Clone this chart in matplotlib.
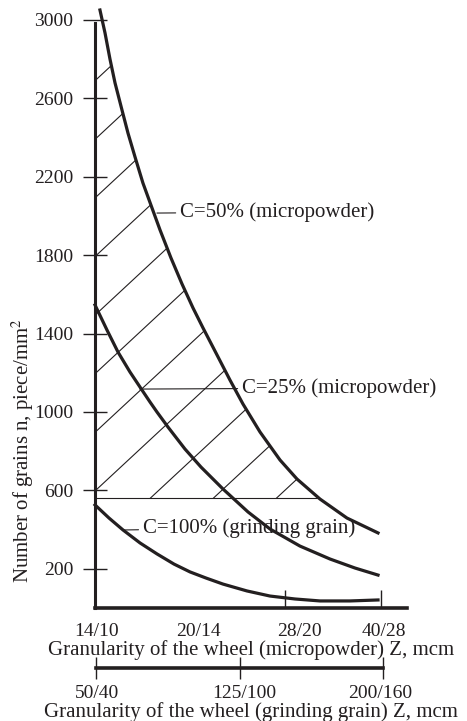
import numpy as np
import matplotlib.pyplot as plt
from matplotlib.patches import Polygon

plt.rcParams['font.family'] = ['Liberation Serif', 'DejaVu Serif']
plt.rcParams['mathtext.fontset'] = 'stix'

ink = '#231f20'

# wheel granularity scales (positions along the bottom axes)
micro_labels = ['14/10', '20/14', '28/20', '40/28']
micro_label_pos = [0.02, 1.08, 2.14, 3.03]
micro_tick_pos = [1.08, 1.99, 3.0]
grain_labels = ['50/40', '125/100', '200/160']
grain_label_pos = [0.02, 1.57, 2.99]
grain_tick_pos = [0.01, 1.52, 3.02]

yticks = [200, 600, 1000, 1400, 1800, 2200, 2600, 3000]

# number of grains
c50_x = [0.052, 0.105, 0.157, 0.21, 0.283, 0.346, 0.42, 0.503, 0.598, 0.682, 0.797,
         0.913, 1.028, 1.133, 1.28, 1.416, 1.552, 1.731, 1.941, 2.119, 2.36, 2.643, 2.969]
c50_n = [3051, 2934, 2801, 2679, 2541, 2423, 2301, 2168, 2041, 1929, 1786,
         1653, 1531, 1429, 1291, 1163, 1041, 898, 755, 658, 556, 459, 383]

c25_x = [0.0, 0.126, 0.241, 0.367, 0.493, 0.577, 0.65, 0.766, 0.944, 1.112, 1.343,
         1.605, 1.836, 2.15, 2.465, 2.727, 2.969]
c25_n = [1546, 1418, 1306, 1204, 1112, 1051, 1000, 923, 811, 719, 607,
         490, 403, 316, 250, 204, 168]

c100_x = [0.0, 0.147, 0.294, 0.472, 0.65, 0.829, 0.997, 1.164, 1.343, 1.594,
          1.836, 2.098, 2.36, 2.675, 2.969]
c100_n = [526, 459, 398, 332, 276, 224, 184, 153, 122, 87,
          61, 46, 36, 36, 41]

floor_n = 561  # lower edge of the hatched zone

fig = plt.figure(figsize=(4.67, 7.21), dpi=100)
L, R = 95 / 467, 407 / 467
ax = fig.add_axes([L, (721 - 608) / 721, R - L, (608 - 10) / 721])
ax.set_xlim(0, 3.273)
ax.set_ylim(0, 3051)

for xs, ns in [(c50_x, c50_n), (c25_x, c25_n), (c100_x, c100_n)]:
    ax.plot(xs, ns, color=ink, lw=2.3, clip_on=False, zorder=3,
            solid_joinstyle='round')

# hatched zone between the axis, C=50% curve and the 600 level
x_end = np.interp(floor_n, c50_n[::-1], c50_x[::-1])
verts = [(0, floor_n), (0, 3200)]
verts += [(x, n) for x, n in zip(c50_x, c50_n) if n >= floor_n]
verts += [(x_end, floor_n)]
zone = Polygon(verts, closed=True, transform=ax.transData)

for c in np.arange(2690, -700, -299):
    line, = ax.plot([0, 3.3], [c, c + 452 * 3.3], color=ink, lw=0.8)
    line.set_clip_path(zone)
ax.plot([0, x_end], [floor_n, floor_n], color=ink, lw=0.8)

# curve labels
arrow = dict(arrowstyle='-', color=ink, lw=0.8, shrinkA=1, shrinkB=0)
ax.annotate('C=50% (micropowder)', xy=(0.65, 2015), xytext=(0.89, 1995),
            fontsize=15, color=ink, va='baseline', arrowprops=arrow)
ax.annotate('C=25% (micropowder)', xy=(0.47, 1117), xytext=(1.54, 1097),
            fontsize=15, color=ink, va='baseline', arrowprops=arrow)
ax.annotate('C=100% (grinding grain)', xy=(0.29, 398), xytext=(0.50, 383),
            fontsize=15, color=ink, va='baseline', arrowprops=arrow)

# axes styling
ax.spines[['top', 'right']].set_visible(False)
ax.spines['left'].set_bounds(0, 2985)
ax.spines['left'].set_linewidth(2.2)
ax.spines['bottom'].set_linewidth(2.6)
for s in ax.spines.values():
    s.set_color(ink)
    s.set_capstyle('projecting')

ax.set_yticks(yticks)
ax.tick_params(axis='y', direction='inout', length=17, width=1, pad=7,
               labelsize=14, color=ink, labelcolor=ink)
ax.set_xticks(micro_label_pos, micro_labels)
ax.set_xticks(micro_tick_pos, minor=True)
ax.tick_params(axis='x', which='major', length=0, pad=11, labelsize=14, labelcolor=ink)
ax.tick_params(axis='x', which='minor', direction='in', length=13, width=1, color=ink)
ax.set_xlabel('Granularity of the wheel (micropowder) Z, mcm', fontsize=15,
              color=ink, labelpad=0)

fig.text(23 / 467, 1 - 451 / 721, 'Number of grains n, piece/mm$^2$', rotation=90,
         ha='center', va='center', fontsize=15, color=ink)

# second scale for grinding grain
ax2 = fig.add_axes([L, (721 - 668) / 721, R - L, 0.0001])
ax2.set_xlim(ax.get_xlim())
ax2.patch.set_visible(False)
ax2.set_yticks([])
ax2.spines[['top', 'left', 'right']].set_visible(False)
ax2.spines['bottom'].set_bounds(0.01, 3.02)
ax2.spines['bottom'].set_linewidth(2.6)
ax2.spines['bottom'].set_color(ink)
ax2.set_xticks(grain_label_pos, grain_labels)
ax2.set_xticks(grain_tick_pos, minor=True)
ax2.tick_params(axis='x', which='major', length=0, pad=12, labelsize=14, labelcolor=ink)
ax2.tick_params(axis='x', which='minor', direction='inout', length=16, width=1, color=ink)
ax2.set_xlabel('Granularity of the wheel (grinding grain) Z, mcm', fontsize=15,
               color=ink, labelpad=0)

fig.savefig('out.png', dpi=100)
